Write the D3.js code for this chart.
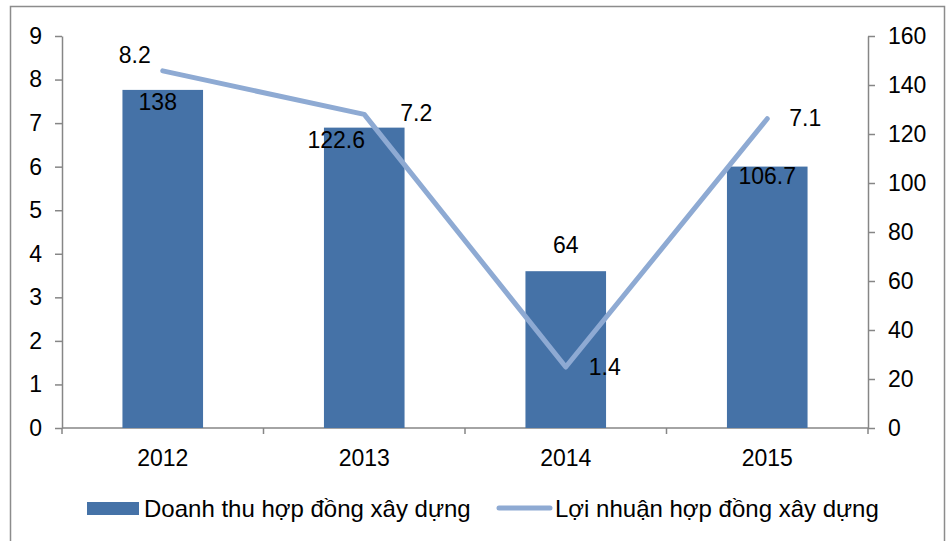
<!DOCTYPE html>
<html lang="vi">

<head>
  <meta charset="UTF-8">
  <title>Doanh thu và lợi nhuận hợp đồng xây dựng</title>
  <style>
    body {
      margin: 0;
      background: #fff;
    }

    svg {
      display: block;
      font-family: "Liberation Sans", Arial, sans-serif;
    }

    .axis path,
    .axis line {
      stroke: #868686;
      stroke-width: 1.5;
    }

    .axis text {
      font-size: 23px;
      fill: #000;
    }
  </style>
</head>

<body>
  <div class="container"></div>
  <script src="https://d3js.org/d3.v7.min.js"></script>
  <script>
    const years = ['2012', '2013', '2014', '2015']
    const revenue = [138, 122.6, 64, 106.7]      // Doanh thu (cột, trục phải)
    const profit = [8.2, 7.2, 1.4, 7.1]          // Lợi nhuận (đường, trục trái)
    const leftTicks = [0, 1, 2, 3, 4, 5, 6, 7, 8, 9]
    const rightTicks = [0, 20, 40, 60, 80, 100, 120, 140, 160]
    const seriesNames = ['Doanh thu hợp đồng xây dựng', 'Lợi nhuận hợp đồng xây dựng']

    // vị trí nhãn dữ liệu so với điểm/cột
    const barLabelOffset = [[-5, 20], [-28, 20], [0, -18], [0, 17]]
    const lineLabelOffset = [[-28, -8], [52, 7], [39, 8], [38, 7]]

    const W = 948, H = 541
    const m = { left: 62, right: 80, top: 36, bottom: 113 }
    const w = W - m.left - m.right, h = H - m.top - m.bottom

    const barColor = '#4572a7', lineColor = '#8eaad3'

    const svg = d3.select('.container')
      .append('svg')
      .attr('width', W)
      .attr('height', H)

    // khung ngoài
    svg.append('rect')
      .attr('x', 10.5)
      .attr('y', 6.5)
      .attr('width', 934)
      .attr('height', 600)
      .attr('fill', 'none')
      .attr('stroke', '#8c8c8c')
      .attr('stroke-width', 1.5)

    const g = svg.append('g')
      .attr('transform', `translate(${m.left}, ${m.top})`)

    const xScale = d3.scaleBand()
      .domain(years)
      .range([0, w])

    const yLeft = d3.scaleLinear()
      .domain([0, 9])
      .range([h, 0])

    const yRight = d3.scaleLinear()
      .domain([0, 160])
      .range([h, 0])

    // trục trái
    g.append('g')
      .attr('class', 'axis')
      .call(d3.axisLeft(yLeft).tickValues(leftTicks).tickSize(7).tickPadding(13).tickSizeOuter(0))

    // trục phải
    g.append('g')
      .attr('class', 'axis')
      .attr('transform', `translate(${w}, 0)`)
      .call(d3.axisRight(yRight).tickValues(rightTicks).tickSize(7).tickPadding(13).tickSizeOuter(0))

    // trục x: vạch ở ranh giới các nhóm
    const xAxis = g.append('g')
      .attr('class', 'axis')
      .attr('transform', `translate(0, ${h})`)
    xAxis.append('line')
      .attr('x1', 0).attr('x2', w)
    xAxis.selectAll('.tk')
      .data(d3.range(years.length + 1))
      .enter()
      .append('line')
      .attr('x1', i => i * xScale.step())
      .attr('x2', i => i * xScale.step())
      .attr('y1', 0)
      .attr('y2', 6)
    xAxis.selectAll('text')
      .data(years)
      .enter()
      .append('text')
      .attr('x', d => xScale(d) + xScale.bandwidth() / 2)
      .attr('y', 38)
      .attr('text-anchor', 'middle')
      .text(d => d)

    // cột doanh thu
    const barW = xScale.bandwidth() * 0.4
    g.selectAll('.bar')
      .data(revenue)
      .enter()
      .append('rect')
      .attr('class', 'bar')
      .attr('x', (d, i) => xScale(years[i]) + (xScale.bandwidth() - barW) / 2)
      .attr('y', d => yRight(d))
      .attr('width', barW)
      .attr('height', d => h - yRight(d))
      .attr('fill', barColor)

    // đường lợi nhuận
    const cx = i => xScale(years[i]) + xScale.bandwidth() / 2
    const line = d3.line()
      .x((d, i) => cx(i))
      .y(d => yLeft(d))

    g.append('path')
      .datum(profit)
      .attr('d', line)
      .attr('fill', 'none')
      .attr('stroke', lineColor)
      .attr('stroke-width', 5)
      .attr('stroke-linecap', 'round')
      .attr('stroke-linejoin', 'round')

    // nhãn dữ liệu
    g.selectAll('.barlabel')
      .data(revenue)
      .enter()
      .append('text')
      .attr('x', (d, i) => cx(i) + barLabelOffset[i][0])
      .attr('y', (d, i) => yRight(d) + barLabelOffset[i][1])
      .attr('text-anchor', 'middle')
      .style('font-size', '23px')
      .text(d => d)

    g.selectAll('.linelabel')
      .data(profit)
      .enter()
      .append('text')
      .attr('x', (d, i) => cx(i) + lineLabelOffset[i][0])
      .attr('y', (d, i) => yLeft(d) + lineLabelOffset[i][1])
      .attr('text-anchor', 'middle')
      .style('font-size', '23px')
      .text(d => d)

    // chú thích
    const legend = svg.append('g')
    legend.append('rect')
      .attr('x', 87).attr('y', 502)
      .attr('width', 52).attr('height', 13)
      .attr('fill', barColor)
    legend.append('text')
      .attr('x', 144).attr('y', 517)
      .style('font-size', '24px')
      .text(seriesNames[0])
    legend.append('line')
      .attr('x1', 499).attr('x2', 550)
      .attr('y1', 508).attr('y2', 508)
      .attr('stroke', lineColor)
      .attr('stroke-width', 5)
      .attr('stroke-linecap', 'round')
    legend.append('text')
      .attr('x', 555).attr('y', 517)
      .style('font-size', '24px')
      .text(seriesNames[1])
  </script>
</body>

</html>
